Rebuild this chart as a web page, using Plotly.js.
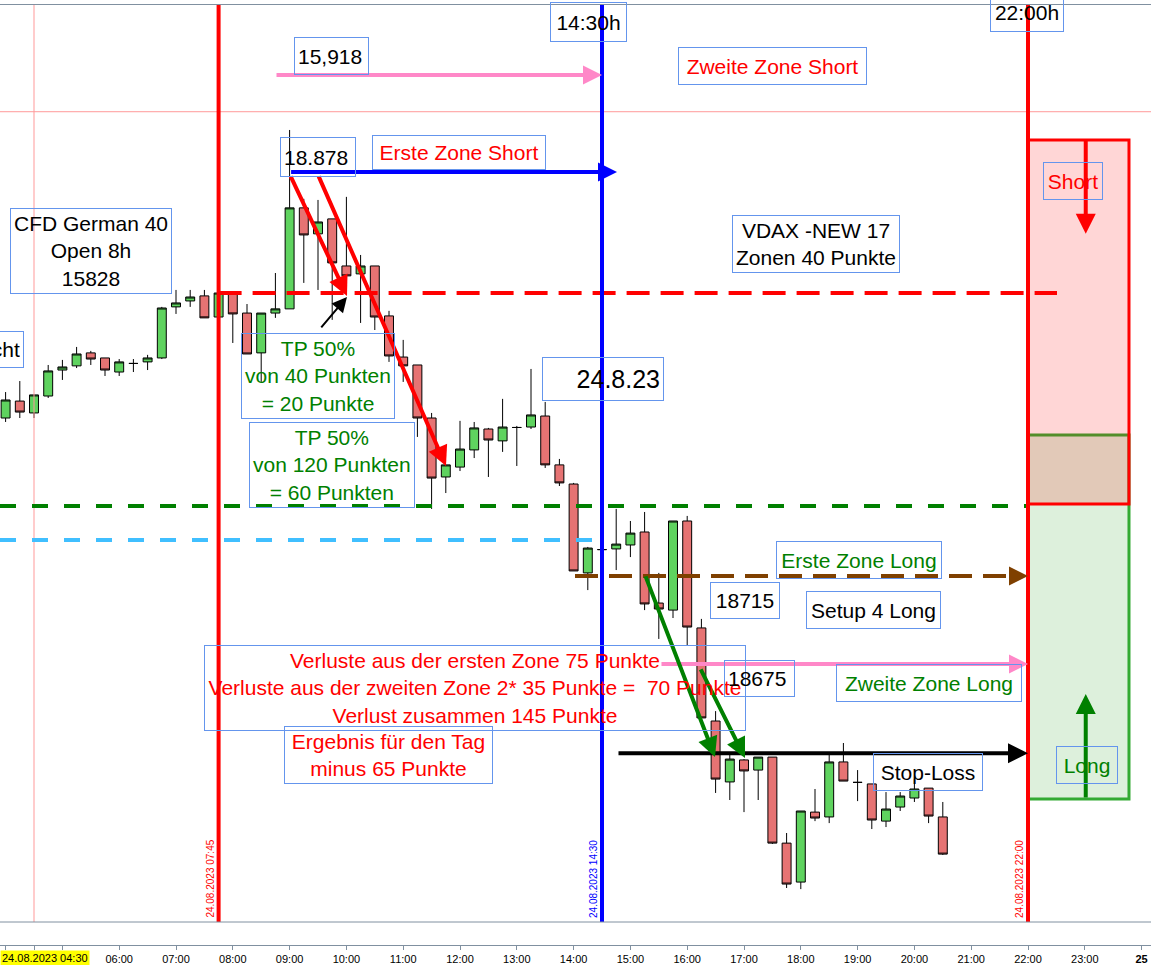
<!DOCTYPE html>
<html>
<head>
<meta charset="utf-8">
<script src="https://cdn.plot.ly/plotly-3.0.1.min.js"></script>
<style>
  html, body { margin: 0; padding: 0; background: #fff; }
  #chart { width: 1151px; height: 965px; }
</style>
</head>
<body>
<div id="chart"></div>
<script>
// DAX CFD, 15 min candles, 24.08.2023
var DAY = '2023-08-24 ';
var times = ['04:00','04:15','04:30','04:45','05:00','05:15','05:30','05:45',
  '06:00','06:15','06:30','06:45','07:00','07:15','07:30','07:45',
  '08:00','08:15','08:30','08:45','09:00','09:15','09:30','09:45',
  '10:00','10:15','10:30','10:45','11:00','11:15','11:30','11:45',
  '12:00','12:15','12:30','12:45','13:00','13:15','13:30','13:45',
  '14:00','14:15','14:30','14:45','15:00','15:15','15:30','15:45',
  '16:00','16:15','16:30','16:45','17:00','17:15','17:30','17:45',
  '18:00','18:15','18:30','18:45','19:00','19:15','19:30','19:45',
  '20:00','20:15','20:30'];
var openP = [18786.8,18794.5,18789.1,18796.8,18808.6,18810.5,18816.4,18814.1,
  18807.7,18811.6,18812.3,18814.1,18837.3,18840.0,18842.3,18832.7,
  18843.6,18834.5,18816.4,18834.5,18836.4,18882.3,18870.5,18877.3,
  18855.9,18852.3,18855.9,18833.2,18814.5,18810.9,18786.8,18760.0,
  18764.5,18772.3,18781.8,18776.4,18782.5,18782.7,18787.7,18765.5,
  18756.8,18716.4,18727.0,18727.3,18729.1,18735.0,18702.7,18699.5,
  18740.0,18691.4,18649.1,18621.4,18631.4,18626.8,18632.7,18593.6,
  18575.9,18607.7,18605.5,18630.5,18621.2,18620.5,18603.6,18610.0,
  18614.1,18618.6,18605.5];
var highP = [18798.6,18803.6,18797.3,18810.9,18813.2,18819.1,18817.3,18814.1,
  18813.6,18813.6,18815.5,18837.3,18845.0,18845.0,18845.0,18845.0,
  18843.6,18838.6,18834.5,18852.7,18917.7,18886.4,18885.9,18877.3,
  18887.3,18860.9,18855.9,18835.5,18822.3,18810.9,18789.1,18765.5,
  18785.5,18785.0,18782.3,18795.5,18783.2,18809.1,18794.1,18768.2,
  18757.3,18728.2,18728.2,18745.5,18740.0,18744.1,18716.4,18740.0,
  18742.3,18695.5,18653.6,18634.5,18631.8,18632.7,18632.7,18598.2,
  18608.2,18618.2,18634.1,18639.1,18626.8,18620.5,18616.8,18616.8,
  18622.7,18618.6,18612.3];
var lowP = [18785.0,18786.8,18786.8,18795.9,18804.1,18809.5,18810.9,18805.9,
  18805.9,18807.7,18808.6,18813.6,18834.1,18837.3,18832.3,18832.7,
  18820.9,18815.9,18803.2,18832.3,18836.4,18848.2,18845.0,18831.4,
  18843.6,18830.0,18826.8,18812.3,18803.2,18778.2,18745.5,18752.7,
  18762.7,18768.6,18760.0,18771.4,18765.0,18781.8,18764.1,18755.9,
  18717.3,18708.6,18725.5,18717.7,18723.6,18699.5,18686.4,18695.9,
  18683.2,18650.5,18616.4,18613.2,18607.7,18613.2,18593.2,18573.2,
  18572.7,18603.6,18602.7,18621.8,18612.7,18600.0,18600.9,18608.2,
  18612.3,18602.7,18588.2];
var closeP = [18795.0,18789.5,18797.3,18808.2,18810.0,18815.9,18813.6,18808.6,
  18812.3,18811.6,18814.1,18836.8,18839.1,18841.8,18832.3,18843.6,
  18834.1,18815.9,18834.5,18836.4,18882.3,18870.0,18875.9,18857.3,
  18851.4,18855.9,18832.7,18815.0,18810.5,18786.8,18759.5,18765.5,
  18772.7,18782.3,18776.8,18782.7,18782.5,18788.2,18765.5,18757.3,
  18717.3,18727.7,18727.0,18729.5,18734.5,18702.3,18700.0,18740.0,
  18691.8,18650.5,18622.7,18631.8,18626.4,18632.7,18593.6,18575.0,
  18608.2,18605.0,18630.5,18621.8,18621.2,18604.1,18609.1,18615.0,
  18618.2,18605.9,18588.6];

// levels drawn on the chart
var pinkTop = 18942.7;
var thinPink = 18926.0;
var blueLevel = 18898.6;
var redDash = 18843.6;
var greenDash = 18746.8;
var lightBlue = 18731.4;
var brownLevel = 18715.0;
var pinkLevel = 18675.0;
var stopLoss = 18634.5;
var shortZone = [18747.7, 18913.2];
var longZone = [18613.6, 18779.1];

// axis ticks
var tickTimes = ['04:00','04:30','05:00','06:00','07:00','08:00','09:00','10:00','11:00',
  '12:00','13:00','14:00','15:00','16:00','17:00','18:00','19:00','20:00','21:00',
  '22:00','23:00'];
var tickText = ['','','','06:00','07:00','08:00','09:00','10:00','11:00',
  '12:00','13:00','14:00','15:00','16:00','17:00','18:00','19:00','20:00','21:00',
  '22:00','23:00','<b>25</b>'];

var FONT = 'Liberation Sans, Arial, sans-serif';
var PANE = 23 / 940;   // bottom of price pane in paper units
var X_LEFT = DAY + '03:54:05', X_RIGHT = '2023-08-25 00:09:56';

function t(hm) { return DAY + hm; }

var candles = {
  type: 'candlestick',
  x: times.map(t),
  open: openP, high: highP, low: lowP, close: closeP,
  increasing: {line: {color: '#000', width: 1}, fillcolor: '#5fd35f'},
  decreasing: {line: {color: '#000', width: 1}, fillcolor: '#e67373'},
  whiskerwidth: 0,
  hoverinfo: 'skip',
  showlegend: false
};

function vline(x, color, w) {
  return {type: 'line', xref: 'x', yref: 'paper', x0: x, x1: x, y0: PANE, y1: 1,
    line: {color: color, width: w}};
}
function hline(x0, x1, y, color, w, dash) {
  return {type: 'line', xref: 'x', yref: 'y', x0: x0, x1: x1, y0: y, y1: y,
    line: {color: color, width: w, dash: dash || 'solid'}};
}

var shapes = [
  {type: 'line', xref: 'paper', yref: 'y', x0: 0, x1: 1, y0: thinPink, y1: thinPink,
    line: {color: '#ff9999', width: 1}},
  vline(t('04:30'), '#ff9999', 1),
  hline(t('07:45'), t('22:30:38'), redDash, '#ff0000', 4, '23px,11px'),
  hline(X_LEFT, t('22:00'), greenDash, '#008000', 4, '16px,16px'),
  hline(X_LEFT, t('14:20:29'), lightBlue, '#40bfff', 4, '16px,16px'),
  hline(t('14:01:29'), t('21:55'), brownLevel, '#7f4000', 4, '23px,11px'),
  {type: 'rect', xref: 'x', yref: 'y', x0: t('22:00'), x1: t('23:46:41'),
    y0: longZone[0], y1: longZone[1], fillcolor: '#ddf0dc', line: {color: '#33aa33', width: 3}},
  {type: 'rect', xref: 'x', yref: 'y', x0: t('22:00'), x1: t('23:46:41'),
    y0: shortZone[0], y1: shortZone[1], fillcolor: 'rgba(255,0,0,0.16)', line: {color: '#ff0000', width: 3}},
  vline(t('07:45'), '#ff0000', 4),
  vline(t('14:30'), '#0000ff', 4),
  vline(t('22:00'), '#ff0000', 4),
  {type: 'line', xref: 'paper', yref: 'paper', x0: 0, x1: 1, y0: PANE, y1: PANE,
    line: {color: '#8090a0', width: 1}}
];

function note(text, x, y, color, opts) {
  var a = {xref: 'paper', yref: 'paper', x: x, y: y, text: text, showarrow: false,
    xanchor: 'center', yanchor: 'middle',
    font: {family: FONT, size: 21, color: color},
    bordercolor: '#6495ed', borderwidth: 1, borderpad: 3, bgcolor: 'rgba(0,0,0,0)'};
  for (var k in (opts || {})) a[k] = opts[k];
  return a;
}
function arrow(x0, y0, x1, y1, color, w, size) {
  return {xref: 'x', yref: 'y', axref: 'x', ayref: 'y', x: x1, y: y1, ax: x0, ay: y0,
    text: '', showarrow: true, arrowhead: 2, arrowsize: size, arrowwidth: w,
    arrowcolor: color, standoff: 0};
}
function vlabel(x, text, color) {
  return {xref: 'x', yref: 'paper', x: x, y: 0.0266, xshift: -8, yanchor: 'bottom',
    textangle: -90, text: text, showarrow: false,
    font: {family: FONT, size: 10, color: color}};
}

var RED = '#ff0000', GREEN = '#008000', BLACK = '#000000';

var annotations = [
  // arrows
  arrow(t('08:44:35'), pinkTop, t('14:30'), pinkTop, '#ff88c8', 4, 0.95),
  arrow(t('09:00'), blueLevel, t('14:45:50'), blueLevel, '#0000ff', 4, 0.95),
  arrow(t('14:45:50'), stopLoss, t('22:00'), stopLoss, BLACK, 4, 1),
  arrow(t('15:31:15'), pinkLevel, t('22:00'), pinkLevel, '#ff88c8', 4, 0.95),
  arrow(t('21:50'), brownLevel, t('22:00'), brownLevel, '#7f4000', 4, 0.95),
  arrow(t('09:00:25'), 18897.3, t('10:00:38'), 18842.3, RED, 4, 1),
  arrow(t('09:30'), 18897.3, t('11:45:13'), 18765.0, RED, 4, 1),
  arrow(t('09:32:07'), 18827.3, t('10:00:38'), 18841.8, BLACK, 2, 1.5),
  arrow(t('15:15:25'), 18715.5, t('16:29:22'), 18632.7, GREEN, 4, 1),
  arrow(t('16:13:31'), 18673.2, t('17:01:03'), 18632.3, GREEN, 4, 1),
  arrow(t('23:01'), shortZone[1] + 0.9, t('23:01'), 18870.5, RED, 4, 1),
  arrow(t('23:01'), longZone[0], t('23:01'), 18661.4, GREEN, 4, 1),

  // text boxes
  note('15,918', 0.2880, 0.9457, BLACK, {width: 67, height: 30, align: 'left'}),
  note('14:30h', 0.5113, 0.9819, BLACK, {width: 69, height: 32}),
  note('22:00h', 0.8923, 0.9926, BLACK, {width: 66, height: 32}),
  note('Zweite Zone Short', 0.6712, 0.9351, RED, {width: 181, height: 30}),
  note('18.878', 0.2763, 0.8383, BLACK, {width: 68, height: 32, align: 'left'}),
  note('Erste Zone Short', 0.3988, 0.8431, RED, {width: 166, height: 27}),
  note('CFD German 40<br>Open 8h<br>15828', 0.0791, 0.7383, BLACK),
  note('Nacht', 0.0211, 0.6330, BLACK, {xanchor: 'right', height: 29}),
  note('VDAX -NEW 17<br>Zonen 40 Punkte', 0.7090, 0.7457, BLACK),
  note('TP 50%<br>von 40 Punkten<br>= 20 Punkte', 0.2763, 0.6050, GREEN),
  note('TP 50%<br>von 120 Punkten<br>= 60 Punkten', 0.2884, 0.5110, GREEN),
  note('24.8.23', 0.5235, 0.6018, BLACK, {width: 114, height: 36, align: 'right',
    font: {family: FONT, size: 25, color: BLACK}}),
  note('Erste Zone Long', 0.7459, 0.4101, GREEN, {width: 158, height: 30}),
  note('18715', 0.6475, 0.3667, BLACK, {width: 62, height: 29}),
  note('Setup 4 Long', 0.7587, 0.3569, BLACK, {width: 127, height: 30}),
  note('Verluste aus der ersten Zone 75 Punkte<br>' +
       'Verluste aus der zweiten Zone 2* 35 Punkte =\u00a0 70 Punkte<br>' +
       'Verlust zusammen 145 Punkte', 0.4130, 0.2729, RED, {width: 534}),
  note('18675', 0.6599, 0.2830, BLACK, {width: 63, height: 29, align: 'left'}),
  note('Zweite Zone Long', 0.8071, 0.2787, GREEN, {width: 178, height: 30}),
  note('Ergebnis für den Tag<br>minus 65 Punkte', 0.3379, 0.2024, RED, {width: 201}),
  note('Stop-Loss', 0.8063, 0.1844, BLACK, {width: 102, height: 30}),
  note('Short', 0.9318, 0.8123, RED, {width: 52, height: 30}),
  note('Long', 0.9440, 0.1914, GREEN, {width: 54, height: 30}),

  // rotated time stamps on the session lines
  vlabel(t('07:45'), '24.08.2023 07:45', RED),
  vlabel(t('14:30'), '24.08.2023 14:30', '#0000ff'),
  vlabel(t('22:00'), '24.08.2023 22:00', RED),

  // first axis label with yellow background
  {xref: 'paper', yref: 'paper', x: 0, y: -0.0138, xanchor: 'left', yanchor: 'middle',
    text: '24.08.2023 04:30', showarrow: false, bgcolor: '#ffff00', borderpad: 1,
    font: {family: FONT, size: 11, color: BLACK}}
];

var layout = {
  width: 1151, height: 965,
  margin: {l: 0, r: 0, t: 5, b: 20},
  paper_bgcolor: '#ffffff', plot_bgcolor: '#ffffff',
  boxgap: 0.1,
  showlegend: false,
  hovermode: false,
  xaxis: {
    type: 'date',
    range: [X_LEFT, X_RIGHT],
    tickvals: tickTimes.map(t).concat(['2023-08-25 00:00']),
    ticktext: tickText,
    ticks: 'outside', ticklen: 4, tickcolor: '#8090a0',
    tickfont: {family: FONT, size: 11, color: '#000'},
    showline: true, linecolor: '#8090a0', linewidth: 1, mirror: true,
    showgrid: false, zeroline: false,
    rangeslider: {visible: false},
    fixedrange: true
  },
  yaxis: {
    range: [18547.3, 18974.5],
    visible: false,
    fixedrange: true
  },
  shapes: shapes,
  annotations: annotations
};

Plotly.newPlot('chart', [candles], layout, {displayModeBar: false, staticPlot: true});
</script>
</body>
</html>
